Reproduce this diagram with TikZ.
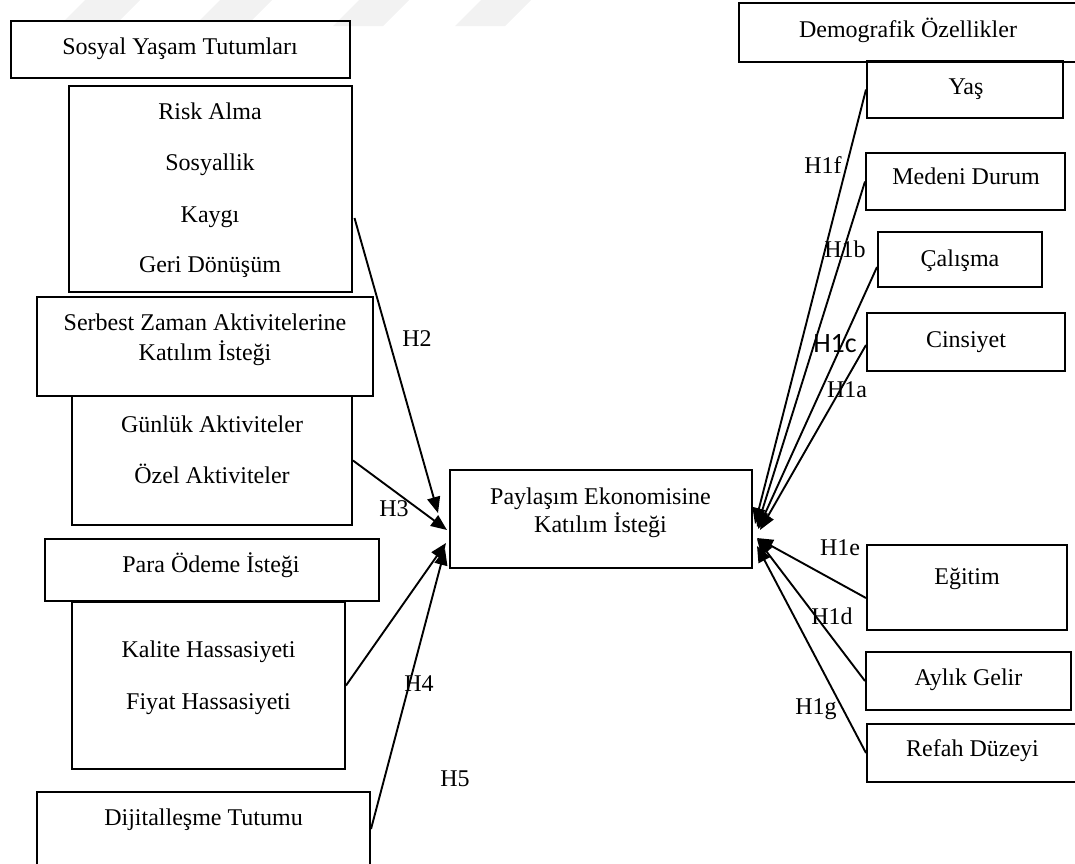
\documentclass[tikz,border=0pt]{standalone}
\usepackage{fontspec}
\setmainfont{Liberation Serif}
\newfontfamily\carlitofont{Carlito}
\usetikzlibrary{arrows.meta,calc}
\begin{document}
\begin{tikzpicture}[x=0.5pt,y=-0.5pt,
  box/.style={draw, line width=1pt, inner sep=0pt},
  txt/.style={inner sep=0pt, font=\fontsize{12}{14}\selectfont, text height=1.3ex, text depth=0.3ex, yshift=-1.5pt},
  hlab/.style={inner sep=0pt, font=\fontsize{12}{14}\selectfont, text height=1.3ex, text depth=0.3ex, yshift=-1.5pt},
  conn/.style={line width=0.95pt, -{Triangle[length=8pt,width=6.5pt]}},
  stripe/.style={fill=black!5, draw=none}]
\useasboundingbox (0,0) rectangle (1075,863);
\clip (0,0) rectangle (1075,863);
% watermark stripes
\fill[stripe] (63,22) -- (118,22) -- (140,0) -- (85,0) -- cycle;
\fill[stripe] (198,22) -- (250,22) -- (272,0) -- (220,0) -- cycle;
\fill[stripe] (333,26) -- (383,26) -- (409,0) -- (359,0) -- cycle;
\fill[stripe] (455,26) -- (505,26) -- (531,0) -- (481,0) -- cycle;
% left boxes
\node[box, minimum width=169.5pt, minimum height=28.5pt] (sosyal) at (180.5,49.5) {};
\node[box, minimum width=141.5pt, minimum height=103pt] (risk) at (210.5,189) {};
\node[box, minimum width=168pt, minimum height=49.5pt] (serbest) at (205,346.5) {};
\node[box, minimum width=140pt, minimum height=64.5pt] (gunluk) at (212,460.5) {};
\node[box, minimum width=167pt, minimum height=31pt] (para) at (212,570) {};
\node[box, minimum width=136.5pt, minimum height=83.5pt] (kalite) at (208.5,685.5) {};
\node[box, minimum width=166.5pt, minimum height=37pt] (dijital) at (203.5,829) {};
% centre
\node[box, minimum width=151pt, minimum height=49pt] (cent) at (601,519) {};
% right boxes
\node[box, minimum width=169.5pt, minimum height=29.5pt] (demo) at (908.5,32.5) {};
\node[box, minimum width=98pt, minimum height=28.5pt] (yas) at (965,89.5) {};
\node[box, minimum width=99.5pt, minimum height=28.5pt] (medeni) at (965.5,181.5) {};
\node[box, minimum width=82pt, minimum height=27.5pt] (calisma) at (960,259.5) {};
\node[box, minimum width=99pt, minimum height=29pt] (cinsiyet) at (966,342) {};
\node[box, minimum width=100pt, minimum height=42.5pt] (egitim) at (967,587.5) {};
\node[box, minimum width=102.5pt, minimum height=29pt] (aylik) at (968.5,681) {};
\node[box, minimum width=105.5pt, minimum height=29pt] (refah) at (972.5,753) {};
% texts
\node[txt] (tsosyal) at (180,47) {Sosyal Yaşam Tutumları};
\node[txt] (trisk1) at (210,112) {Risk Alma};
\node[txt] (trisk2) at (210,163) {Sosyallik};
\node[txt] (trisk3) at (210,215) {Kaygı};
\node[txt] (trisk4) at (210,265) {Geri Dönüşüm};
\node[txt] (tserb1) at (205,323) {Serbest Zaman Aktivitelerine};
\node[txt] (tserb2) at (205,353) {Katılım İsteği};
\node[txt] (tgun1) at (212,425) {Günlük Aktiviteler};
\node[txt] (tgun2) at (212,476) {Özel Aktiviteler};
\node[txt] (tpara) at (211,565) {Para Ödeme İsteği};
\node[txt] (tkal1) at (208.5,650) {Kalite Hassasiyeti};
\node[txt] (tkal2) at (208.5,702) {Fiyat Hassasiyeti};
\node[txt] (tdij) at (203.5,818) {Dijitalleşme Tutumu};
\node[txt] (tcent1) at (600.5,497) {Paylaşım Ekonomisine};
\node[txt] (tcent2) at (600.5,525) {Katılım İsteği};
\node[txt] (tdemo) at (908,30) {Demografik Özellikler};
\node[txt] (tyas) at (966,87) {Yaş};
\node[txt] (tmed) at (966,177) {Medeni Durum};
\node[txt] (tcal) at (960,259) {Çalışma};
\node[txt] (tcin) at (966,340) {Cinsiyet};
\node[txt] (tegi) at (967,577) {Eğitim};
\node[txt] (tayl) at (968.5,678) {Aylık Gelir};
\node[txt] (tref) at (972.5,749) {Refah Düzeyi};
% arrow tips
\coordinate (tH2) at (438,513);
\coordinate (tH3) at (447,530);
\coordinate (tH4) at (446,543);
\coordinate (tH5) at (445,549);
\coordinate (tYas) at (755,524);
\coordinate (tMed) at (757,527);
\coordinate (tCal) at (758,529);
\coordinate (tCin) at (760,530);
\coordinate (tEg) at (757,538);
\coordinate (tAy) at (757,539);
\coordinate (tRef) at (757,546);
% connectors
\draw[conn] ($(risk.east)+(1.5,29)$) -- (tH2);
\draw[conn] (gunluk.east) -- (tH3);
\draw[conn] (kalite.east) -- (tH4);
\draw[conn] (dijital.east) -- (tH5);
\draw[conn] (yas.west) -- (tYas);
\draw[conn] (medeni.west) -- (tMed);
\draw[conn] ($(calisma.west)+(0,7.5)$) -- (tCal);
\draw[conn] ($(cinsiyet.west)+(0,3)$) -- (tCin);
\draw[conn] ($(egitim.west)+(0,10.5)$) -- (tEg);
\draw[conn] (aylik.west) -- (tAy);
\draw[conn] (refah.west) -- (tRef);
% hypothesis labels
\node[hlab] (h1f) at (823,166) {H1f};
\node[hlab] (h1b) at (845,250) {H1b};
\node[inner sep=0pt, font=\carlitofont\fontsize{14}{16}\selectfont, text height=1.3ex, text depth=0.3ex, yshift=-1.5pt] (h1c) at (835,345) {H1c};
\node[hlab] (h1a) at (847,390) {H1a};
\node[hlab] (h1e) at (840,548) {H1e};
\node[hlab] (h1d) at (832,617) {H1d};
\node[hlab] (h1g) at (816,707) {H1g};
\node[hlab] (h2) at (417,339) {H2};
\node[hlab] (h3) at (394,509) {H3};
\node[hlab] (h4) at (419,684) {H4};
\node[hlab] (h5) at (455,779) {H5};
\end{tikzpicture}
\end{document}
